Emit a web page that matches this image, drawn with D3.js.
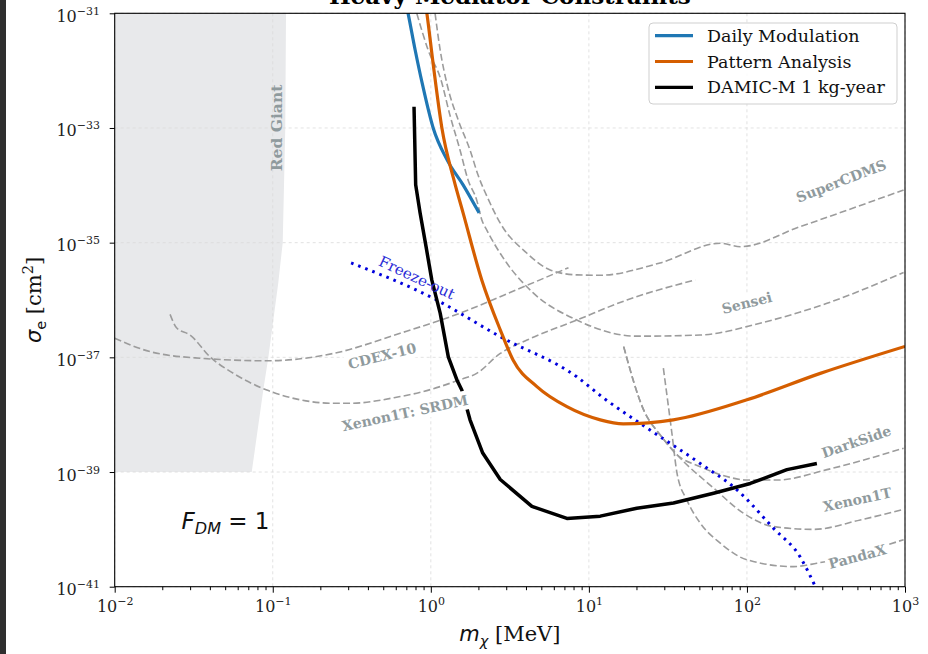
<!DOCTYPE html>
<html>
<head>
<meta charset="utf-8">
<script src="https://cdn.jsdelivr.net/npm/d3@7"></script>
<style>
body { margin: 0; background: #fff; }
</style>
</head>
<body>
<div id="plot"></div>
<script>
// Data: [m_chi (MeV), sigma_e (cm^2)]
var dailyModulation = [
  [0.678, 2.1e-31], [0.718, 1.0e-31], [0.796, 2.29e-32], [0.881, 6.10e-33],
  [1.035, 1.0e-33], [1.27, 2.75e-34], [1.60, 1.02e-34], [2.02, 3.31e-35]
];
var patternAnalysis = [
  [0.908, 2.1e-31], [0.944, 1.0e-31], [1.04, 1.17e-32], [1.175, 1.0e-33],
  [1.40, 1.24e-34], [1.60, 3.31e-35], [2.10, 2.24e-36], [2.75, 3.02e-37],
  [3.32, 8.91e-38], [4.69, 3.09e-38], [7.26, 1.38e-38], [11.8, 8.13e-39],
  [16.5, 6.92e-39], [34.2, 8.13e-39], [100, 1.82e-38], [291, 5.25e-38], [1000, 1.55e-37]
];
var damicM = [
  [0.783, 2.34e-33], [0.802, 1.02e-34], [0.855, 3.31e-35], [0.933, 8.51e-36],
  [1.014, 2.24e-36], [1.146, 5.89e-37], [1.29, 1.02e-37], [1.46, 4.07e-38],
  [1.57, 2.69e-38], [1.77, 8.13e-39], [2.13, 2.14e-39], [2.75, 7.41e-40],
  [4.36, 2.51e-40], [7.26, 1.55e-40], [11.8, 1.70e-40], [20.1, 2.34e-40],
  [34.3, 2.88e-40], [61.5, 4.27e-40], [105, 6.31e-40], [179, 1.10e-39], [277, 1.41e-39]
];
var freezeOut = [
  [0.313, 4.43e-36], [1.038, 1.07e-36], [2.75, 2.29e-37], [8.39, 4.57e-38],
  [12.4, 1.95e-38], [23.3, 5.89e-39], [50.6, 1.41e-39], [86.4, 4.90e-40],
  [147, 1.05e-40], [217, 3.31e-41], [270, 1.02e-41]
];
var cdex10 = [
  [0.01, 2.15e-37], [0.0167, 1.26e-37], [0.0347, 9.66e-38], [0.0917, 8.71e-38],
  [0.242, 1.17e-37], [0.640, 2.63e-37], [1.53, 5.89e-37], [3.67, 1.60e-36], [7.43, 3.66e-36]
];
var xenonSRDM = [
  [0.0224, 5.62e-37], [0.0247, 3.24e-37], [0.030, 2.45e-37], [0.0401, 1.02e-37],
  [0.0564, 5.25e-38], [0.0917, 2.69e-38], [0.149, 1.82e-38], [0.242, 1.58e-38],
  [0.308, 1.58e-38], [0.640, 2.07e-38], [0.815, 2.37e-38], [1.53, 4.07e-38],
  [1.95, 5.25e-38], [2.75, 1.17e-37], [4.06, 2.0e-37], [8.39, 4.47e-37],
  [17.4, 1.0e-36], [47.1, 2.24e-36]
];
var sensei = [
  [0.815, 1.0e-31], [0.962, 2.29e-32], [1.16, 6.87e-33], [1.32, 1.69e-33],
  [1.53, 4.13e-34], [1.72, 1.24e-34], [1.95, 5.56e-35], [2.10, 2.51e-35],
  [2.26, 1.66e-35], [3.03, 4.37e-36], [4.46, 1.32e-36], [8.39, 4.47e-37],
  [20.1, 2.34e-37], [50.6, 2.45e-37], [121, 3.94e-37], [321, 8.77e-37], [980, 3.02e-36]
];
var superCDMS = [
  [1.064, 1.0e-31], [1.146, 2.29e-32], [1.27, 5.62e-33], [1.49, 1.38e-33],
  [1.77, 4.13e-34], [1.99, 1.51e-34], [2.32, 5.56e-35], [2.75, 2.19e-35],
  [4.06, 6.53e-36], [5.69, 3.34e-36], [8.39, 2.74e-36], [11.8, 2.70e-36],
  [28.2, 4.43e-36], [67.8, 9.77e-36], [90.8, 8.51e-36], [218, 1.91e-35], [980, 8.32e-35]
];
var darkSide = [
  [16.6, 1.54e-37], [22.2, 1.21e-38], [28.2, 4.47e-39], [36.1, 2.0e-39],
  [50.6, 1.24e-39], [74.6, 8.32e-40], [100, 7.24e-40], [155, 7.24e-40],
  [321, 1.10e-39], [980, 2.60e-39]
];
var xenon1T = [
  [16.6, 1.54e-37], [22.2, 1.21e-38], [28.2, 4.47e-39], [36.1, 2.0e-39],
  [61.5, 5.25e-40], [95.1, 1.91e-40], [147, 1.12e-40], [264, 1.0e-40],
  [521, 1.46e-40], [980, 2.24e-40]
];
var pandaX = [
  [29.6, 6.46e-38], [33.5, 4.79e-39], [36.1, 9.55e-40], [41.7, 3.24e-40],
  [50.6, 1.29e-40], [67.8, 5.75e-41], [100, 2.95e-41], [197, 2.24e-41],
  [277, 2.57e-41], [980, 6.61e-41]
];
// Red giant bound: right edge of the excluded band
var redGiantEdge = [
  [0.1213, 1e-31], [0.120, 1e-33], [0.1156, 1e-35], [0.1083, 1.96e-36],
  [0.0938, 1e-37], [0.0871, 2.69e-38], [0.0736, 1e-39]
];

// Tick labels (exponents)
var xTickExps = [-2, -1, 0, 1, 2, 3];
var yTickExps = [-31, -33, -35, -37, -39, -41];

// Curve labels: [text, m, sigma, angle]
var curveLabels = [
  ["SuperCDMS", 395, 1.19e-34, -21],
  ["Sensei", 100, 8.9e-37, -14],
  ["CDEX-10", 0.492, 1.06e-37, -14],
  ["Xenon1T: SRDM", 0.687, 1.07e-38, -12],
  ["DarkSide", 492, 3.39e-39, -19],
  ["Xenon1T", 499, 3.31e-40, -12],
  ["PandaX", 499, 3.35e-41, -15]
];

var serif = "'DejaVu Serif', serif",
    sans = "'DejaVu Sans', sans-serif";

// Dimensions
var margin = {top: 13.3, right: 23, bottom: 67.3, left: 114.7},
    width = 928 - margin.left - margin.right,
    height = 654 - margin.top - margin.bottom;

var svg = d3.select("#plot")
  .append("svg")
    .attr("width", 928)
    .attr("height", 654);

svg.append("rect").attr("width", 928).attr("height", 654).attr("fill", "#fff");
svg.append("rect").attr("width", 6).attr("height", 654).attr("fill", "#2f2f2f");

// Title (cut off at the top, as in the original)
svg.append("text")
  .attr("x", margin.left + width / 2)
  .attr("y", 4)
  .attr("text-anchor", "middle")
  .style("font-family", serif)
  .style("font-weight", "bold")
  .style("font-size", "23px")
  .text("Heavy Mediator Constraints");

var g = svg.append("g")
  .attr("transform", "translate(" + margin.left + "," + margin.top + ")");

g.append("clipPath").attr("id", "clip")
  .append("rect").attr("width", width).attr("height", height);

// Scales
var x = d3.scaleLog().domain([1e-2, 1e3]).range([0, width]);
var y = d3.scaleLog().domain([1e-41, 1e-31]).range([height, 0]);

// Red giant region
var rgPoly = [[1e-2, 1e-31]].concat(redGiantEdge).concat([[1e-2, 1e-39]]);
g.append("path")
  .attr("d", d3.line().x(function(d) { return x(d[0]); }).y(function(d) { return y(d[1]); })(rgPoly) + "Z")
  .attr("fill", "#e8e9eb");

// Grid
var xMajor = xTickExps.map(function(e) { return Math.pow(10, e); });
var yMajor = yTickExps.map(function(e) { return Math.pow(10, e); });
g.append("g").selectAll("line").data(xMajor).enter().append("line")
  .attr("x1", function(d) { return x(d); }).attr("x2", function(d) { return x(d); })
  .attr("y1", 0).attr("y2", height)
  .attr("stroke", "#dadada").attr("stroke-width", 0.8).attr("stroke-dasharray", "3,3");
g.append("g").selectAll("line").data(yMajor).enter().append("line")
  .attr("y1", function(d) { return y(d); }).attr("y2", function(d) { return y(d); })
  .attr("x1", 0).attr("x2", width)
  .attr("stroke", "#dadada").attr("stroke-width", 0.8).attr("stroke-dasharray", "3,3");

// Red Giant label
g.append("text")
  .attr("transform", "translate(" + x(0.106) + "," + y(1e-33) + ") rotate(-90)")
  .attr("text-anchor", "middle")
  .attr("dominant-baseline", "central")
  .style("font-family", serif).style("font-weight", "bold").style("font-size", "15.5px")
  .attr("fill", "#8f9a9d")
  .text("Red Giant");

// Lines
var smooth = d3.line()
  .x(function(d) { return x(d[0]); })
  .y(function(d) { return y(d[1]); })
  .curve(d3.curveMonotoneX);
var straight = d3.line()
  .x(function(d) { return x(d[0]); })
  .y(function(d) { return y(d[1]); });

var lines = g.append("g").attr("clip-path", "url(#clip)");

[cdex10, xenonSRDM, sensei, superCDMS, darkSide, xenon1T, pandaX].forEach(function(s) {
  lines.append("path")
    .attr("d", smooth(s))
    .attr("fill", "none")
    .attr("stroke", "#9c9c9c")
    .attr("stroke-width", 1.6)
    .attr("stroke-dasharray", "7,3.2");
});

lines.append("path")
  .attr("d", smooth(freezeOut))
  .attr("fill", "none")
  .attr("stroke", "#0000dd")
  .attr("stroke-width", 3)
  .attr("stroke-dasharray", "2.6,5");

lines.append("path").attr("d", smooth(dailyModulation))
  .attr("fill", "none").attr("stroke", "#1f77b4").attr("stroke-width", 3.2);
lines.append("path").attr("d", smooth(patternAnalysis))
  .attr("fill", "none").attr("stroke", "#d55e00").attr("stroke-width", 3.2);
lines.append("path").attr("d", straight(damicM))
  .attr("fill", "none").attr("stroke", "#000").attr("stroke-width", 3.5)
  .attr("stroke-linejoin", "round");

// Freeze-out label
g.append("text")
  .attr("transform", "translate(" + x(0.815) + "," + y(2.43e-36) + ") rotate(25)")
  .attr("text-anchor", "middle")
  .attr("dominant-baseline", "central")
  .style("font-family", serif).style("font-size", "15px")
  .attr("fill", "#2b2bd6")
  .text("Freeze-out");

// Experiment labels with white boxes
curveLabels.forEach(function(l) {
  var lg = g.append("g")
    .attr("transform", "translate(" + x(l[1]) + "," + y(l[2]) + ") rotate(" + l[3] + ")");
  var bg = lg.append("rect").attr("fill", "#fff");
  var t = lg.append("text")
    .attr("text-anchor", "middle")
    .attr("dominant-baseline", "central")
    .style("font-family", serif).style("font-weight", "bold").style("font-size", "14px")
    .attr("fill", "#8f9a9d")
    .text(l[0]);
  var bb = t.node().getBBox();
  bg.attr("x", bb.x - 3).attr("y", bb.y - 1.5).attr("width", bb.width + 6).attr("height", bb.height + 3);
});

// F_DM annotation
var fdm = g.append("text")
  .attr("x", x(0.0265)).attr("y", y(1.02e-40))
  .style("font-family", sans).style("font-size", "23px").attr("fill", "#111");
fdm.append("tspan").style("font-style", "italic").text("F");
fdm.append("tspan").style("font-style", "italic").style("font-size", "16px").attr("dy", 5).text("DM");
fdm.append("tspan").attr("dy", -5).text(" = 1");

// Axes
function fmtExp(e) { return (e < 0 ? "\u2212" : "") + Math.abs(e); }

var xAxis = g.append("g")
  .attr("transform", "translate(0," + height + ")")
  .call(d3.axisBottom(x).tickValues(xMajor).tickSize(6).tickSizeOuter(0).tickFormat(""));
xAxis.select(".domain").remove();
xAxis.selectAll(".tick text").each(function(d) {
  var e = Math.round(Math.log10(d));
  var t = d3.select(this).attr("y", 25).attr("dy", null)
    .attr("font-family", serif).attr("font-size", 16).attr("fill", "#222");
  t.append("tspan").text("10");
  t.append("tspan").attr("dy", -7).attr("font-size", 11).text(fmtExp(e));
});

var xMinor = x.ticks().filter(function(d) {
  return Math.abs(Math.log10(d) - Math.round(Math.log10(d))) > 1e-6;
});
var xMinorAxis = g.append("g")
  .attr("transform", "translate(0," + height + ")")
  .call(d3.axisBottom(x).tickValues(xMinor).tickSize(3.5).tickSizeOuter(0).tickFormat(""));
xMinorAxis.select(".domain").remove();

var yAxis = g.append("g")
  .call(d3.axisLeft(y).tickValues(yMajor).tickSize(5).tickSizeOuter(0).tickFormat(""));
yAxis.select(".domain").remove();
yAxis.selectAll(".tick text").each(function(d) {
  var e = Math.round(Math.log10(d));
  var t = d3.select(this).attr("x", -14.7).attr("y", 8).attr("dy", null)
    .attr("font-family", serif).attr("font-size", 16).attr("fill", "#222");
  t.append("tspan").text("10");
  t.append("tspan").attr("dy", -7).attr("font-size", 11).text(fmtExp(e));
});

// Spines
g.append("rect")
  .attr("width", width).attr("height", height)
  .attr("fill", "none").attr("stroke", "#000").attr("stroke-width", 1.1);

// Axis labels
var xl = svg.append("text")
  .attr("x", margin.left + width / 2).attr("y", 641)
  .attr("text-anchor", "middle")
  .style("font-size", "21px").attr("fill", "#111");
xl.append("tspan").style("font-family", sans).style("font-style", "italic").text("m");
xl.append("tspan").style("font-family", sans).style("font-style", "italic")
  .style("font-size", "14.5px").attr("dy", 4.5).text("\u03c7");
xl.append("tspan").style("font-family", serif).attr("dy", -4.5).text(" [MeV]");

var yl = svg.append("text")
  .attr("transform", "translate(41," + (margin.top + height / 2) + ") rotate(-90)")
  .attr("text-anchor", "middle")
  .style("font-size", "21px").attr("fill", "#111");
yl.append("tspan").style("font-family", sans).style("font-style", "italic").text("\u03c3");
yl.append("tspan").style("font-family", sans).style("font-size", "14.5px").attr("dy", 4.5).text("e");
yl.append("tspan").style("font-family", serif).attr("dy", -4.5).text(" [cm");
yl.append("tspan").style("font-family", serif).style("font-size", "14.5px").attr("dy", -8).text("2");
yl.append("tspan").style("font-family", serif).attr("dy", 8).text("]");

// Legend
var legendItems = [
  ["Daily Modulation", "#1f77b4"],
  ["Pattern Analysis", "#d55e00"],
  ["DAMIC-M 1 kg-year", "#000"]
];
var legend = svg.append("g").attr("transform", "translate(649,23)");
legend.append("rect")
  .attr("width", 248).attr("height", 81).attr("rx", 4)
  .attr("fill", "#fff").attr("fill-opacity", 0.85)
  .attr("stroke", "#cfcfcf").attr("stroke-width", 1);
legendItems.forEach(function(d, i) {
  var ly = 12.7 + i * 25.8;
  legend.append("line")
    .attr("x1", 6).attr("x2", 44).attr("y1", ly).attr("y2", ly)
    .attr("stroke", d[1]).attr("stroke-width", 3.2);
  legend.append("text")
    .attr("x", 58).attr("y", ly + 6)
    .style("font-family", serif).style("font-size", "17.5px").attr("fill", "#111")
    .text(d[0]);
});
</script>
</body>
</html>
